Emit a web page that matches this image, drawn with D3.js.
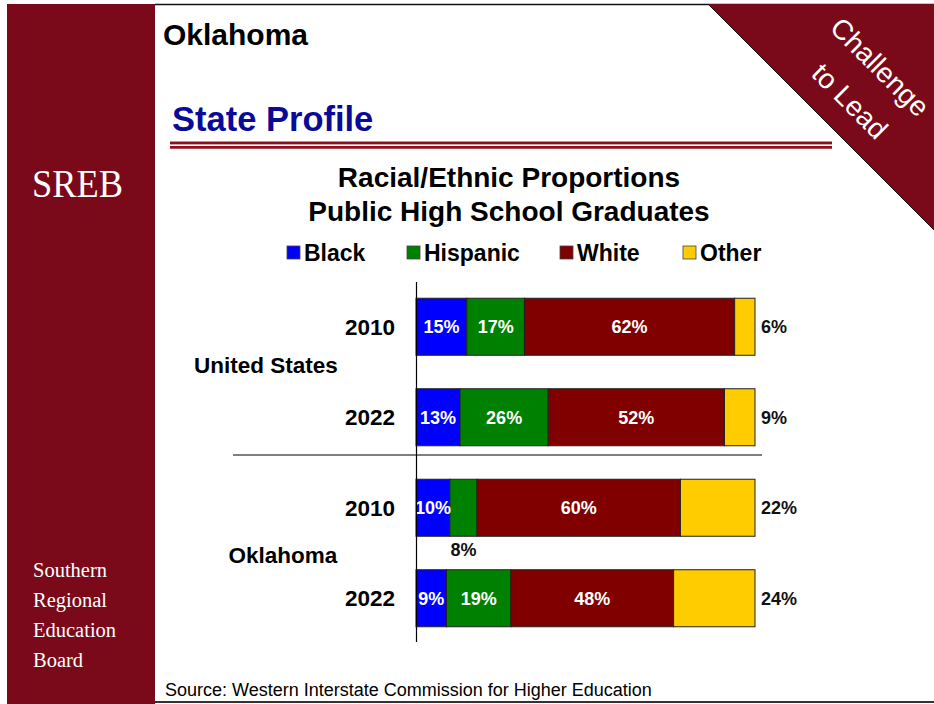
<!DOCTYPE html>
<html>
<head>
<meta charset="utf-8">
<script src="https://cdn.jsdelivr.net/npm/d3@7"></script>
<style>
  body { margin:0; background:#fff; }
  svg { display:block; font-family: Arial, "Liberation Sans", Helvetica, sans-serif; }
</style>
</head>
<body>
<div class="container"></div>
<script>
// chart data
var groups = ["United States", "Oklahoma"];
var years = ["2010", "2022", "2010", "2022"];
var rowIds = ["US2010", "US2022", "OK2010", "OK2022"];
var races = ["Black", "Hispanic", "White", "Other"];
var black = [15, 13, 10, 9];
var hispanic = [17, 26, 8, 19];
var white = [62, 52, 60, 48];
var other = [6, 9, 22, 24];
var colors = ["#0000ff", "#008000", "#800000", "#ffcc00"];

var width = 934, height = 704;
var maroon = "#7a0919";

var svg = d3.select(".container").append("svg")
    .attr("width", width).attr("height", height);

// frame
svg.append("rect").attr("x", 7).attr("y", 4).attr("width", 148).attr("height", 700).attr("fill", maroon);
svg.append("line").attr("x1", 155).attr("x2", 934).attr("y1", 4.5).attr("y2", 4.5).attr("stroke", "#111").attr("stroke-width", 1.5);
svg.append("line").attr("x1", 155).attr("x2", 934).attr("y1", 702).attr("y2", 702).attr("stroke", "#333").attr("stroke-width", 2);

// corner triangle
svg.append("path").attr("d", "M708,4 L934,4 L934,230 Z").attr("fill", maroon);
svg.append("line").attr("x1", 708).attr("y1", 4).attr("x2", 934).attr("y2", 230).attr("stroke", "#111").attr("stroke-width", 1);
svg.append("text").attr("transform", "translate(880,67) rotate(45)")
    .attr("text-anchor", "middle").attr("dy", "0.35em").attr("fill", "#fff")
    .attr("font-size", 28).text("Challenge");
svg.append("text").attr("transform", "translate(850,101) rotate(45)")
    .attr("text-anchor", "middle").attr("dy", "0.35em").attr("fill", "#fff")
    .attr("font-size", 28).text("to Lead");

// sidebar text
svg.append("text").attr("x", 32).attr("y", 197).attr("fill", "#fff")
    .attr("font-family", "'Liberation Serif', 'Times New Roman', serif").attr("font-size", 41)
    .attr("textLength", 91).attr("lengthAdjust", "spacingAndGlyphs").text("SREB");
var sreb = ["Southern", "Regional", "Education", "Board"];
svg.selectAll(".sreb").data(sreb).enter().append("text")
    .attr("x", 33).attr("y", function(d, i) { return 577 + i * 30; })
    .attr("fill", "#fff").attr("font-family", "'Liberation Serif', 'Times New Roman', serif")
    .attr("font-size", 20.5).text(function(d) { return d; });

// headers
svg.append("text").attr("x", 163).attr("y", 45).attr("font-weight", "bold").attr("font-size", 30).text("Oklahoma");
svg.append("text").attr("x", 172).attr("y", 131).attr("font-weight", "bold").attr("font-size", 34.5)
    .attr("fill", "#0a0a99").text("State Profile");
svg.append("rect").attr("x", 170).attr("y", 141).attr("width", 662).attr("height", 8).attr("fill", "#c98a92");
svg.append("rect").attr("x", 170).attr("y", 142).attr("width", 662).attr("height", 2.5).attr("fill", "#8b1020");
svg.append("rect").attr("x", 170).attr("y", 144.5).attr("width", 662).attr("height", 1.5).attr("fill", "#fff");
svg.append("rect").attr("x", 170).attr("y", 146).attr("width", 662).attr("height", 2.5).attr("fill", "#8b1020");

// chart title
svg.append("text").attr("x", 509).attr("y", 187).attr("text-anchor", "middle")
    .attr("font-weight", "bold").attr("font-size", 28).text("Racial/Ethnic Proportions");
svg.append("text").attr("x", 509).attr("y", 221).attr("text-anchor", "middle")
    .attr("font-weight", "bold").attr("font-size", 28).text("Public High School Graduates");

// legend
var legendX = [287, 407, 560, 683];
var legend = svg.selectAll(".legend").data(races).enter().append("g")
    .attr("transform", function(d, i) { return "translate(" + legendX[i] + ",246)"; });
legend.append("rect").attr("width", 13).attr("height", 13)
    .attr("fill", function(d, i) { return colors[i]; }).attr("stroke", "#444").attr("stroke-width", 0.8);
legend.append("text").attr("x", 17).attr("y", 15).attr("font-weight", "bold").attr("font-size", 23)
    .text(function(d) { return d; });

// scales
var x = d3.scaleLinear().domain([0, 100]).range([416, 755]);
var y = d3.scaleBand().domain(rowIds).range([281.5, 643.5]).paddingInner(0.37).paddingOuter(0.185);

// stack
var rows = rowIds.map(function(id, i) {
    return { id: id, Black: black[i], Hispanic: hispanic[i], White: white[i], Other: other[i] };
});
var series = d3.stack().keys(races)(rows);

var layer = svg.selectAll(".layer").data(series).enter().append("g")
    .attr("fill", function(d, i) { return colors[i]; });
layer.selectAll("rect").data(function(d) { return d; }).enter().append("rect")
    .attr("x", function(d) { return x(d[0]); })
    .attr("y", function(d) { return y(d.data.id); })
    .attr("width", function(d) { return x(d[1]) - x(d[0]); })
    .attr("height", y.bandwidth())
    .attr("stroke", "#222").attr("stroke-width", 1);

// value labels
series.forEach(function(s, si) {
    s.forEach(function(d) {
        var v = d[1] - d[0];
        var cy = y(d.data.id) + y.bandwidth() / 2;
        var t = svg.append("text").attr("font-weight", "bold").attr("font-size", 18)
            .attr("dy", "0.35em").text(v + "%");
        if (races[si] === "Other") {
            t.attr("x", x(100) + 6).attr("y", cy).attr("fill", "#111");
        } else if (x(d[1]) - x(d[0]) < 30) {
            // too narrow, put it under the bar
            t.attr("x", (x(d[0]) + x(d[1])) / 2).attr("y", y(d.data.id) + y.bandwidth() + 13)
                .attr("text-anchor", "middle").attr("fill", "#111");
        } else {
            t.attr("x", (x(d[0]) + x(d[1])) / 2).attr("y", cy)
                .attr("text-anchor", "middle").attr("fill", "#fff");
        }
    });
});

// axis line and separator
svg.append("line").attr("x1", 416.5).attr("x2", 416.5).attr("y1", 282).attr("y2", 642).attr("stroke", "#000").attr("stroke-width", 1.2);
svg.append("line").attr("x1", 233).attr("x2", 762).attr("y1", 455).attr("y2", 455).attr("stroke", "#000").attr("stroke-width", 1.2);

// year labels
svg.selectAll(".year").data(rowIds).enter().append("text")
    .attr("x", 395).attr("y", function(d) { return y(d) + y.bandwidth() / 2; })
    .attr("dy", "0.35em").attr("text-anchor", "end")
    .attr("font-weight", "bold").attr("font-size", 22.5)
    .text(function(d, i) { return years[i]; });

// group labels
var groupPos = [[266, 365], [283, 555]];
svg.selectAll(".grp").data(groups).enter().append("text")
    .attr("x", function(d, i) { return groupPos[i][0]; })
    .attr("y", function(d, i) { return groupPos[i][1]; })
    .attr("dy", "0.35em").attr("text-anchor", "middle")
    .attr("font-weight", "bold").attr("font-size", 22.5)
    .text(function(d) { return d; });

// source
svg.append("text").attr("x", 165).attr("y", 696).attr("font-size", 18)
    .text("Source: Western Interstate Commission for Higher Education");
</script>
</body>
</html>
